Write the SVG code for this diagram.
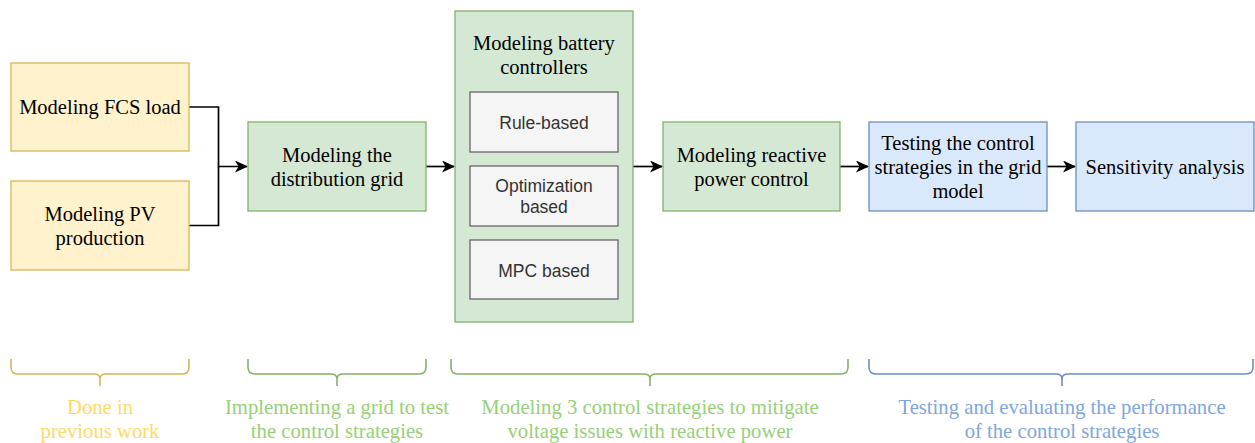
<svg xmlns="http://www.w3.org/2000/svg" width="1255" height="443" viewBox="0 0 1255 443">
  <defs>
    <marker id="arrow" viewBox="0 0 13 12" refX="12" refY="6" markerWidth="13" markerHeight="12" markerUnits="userSpaceOnUse" orient="auto">
      <path d="M0,0 L13,6 L0,12 L3.5,6 Z" fill="#000"/>
    </marker>
    <style>
      .yellow { fill: #fff2cc; stroke: #d6b656; stroke-width: 1.3; }
      .green { fill: #d5e8d4; stroke: #82b366; stroke-width: 1.3; }
      .blue { fill: #dae8fc; stroke: #6c8ebf; stroke-width: 1.3; }
      .grey { fill: #f5f5f5; stroke: #666666; stroke-width: 1.3; }
      .t { font-family: "Liberation Serif", "Times New Roman", serif; font-size: 20.5px; fill: #000; text-anchor: middle; dominant-baseline: central; }
      .s { font-family: "Liberation Sans", Arial, sans-serif; font-size: 17.5px; fill: #333333; text-anchor: middle; dominant-baseline: central; }
      .edge { fill: none; stroke: #000; stroke-width: 1.7; }
      .brace { fill: none; stroke-width: 1.6; }
      .lbl { font-family: "Liberation Serif", "Times New Roman", serif; font-size: 20.7px; text-anchor: middle; dominant-baseline: central; }
    </style>
  </defs>

  <rect width="1255" height="443" fill="#ffffff"/>

  <g id="connectors">
    <path class="edge" d="M189,107 H218.5 V166.5 H247" marker-end="url(#arrow)"/>
    <path class="edge" d="M189,225.5 H218.5 V166.5"/>
    <path class="edge" d="M426,166.5 H454" marker-end="url(#arrow)"/>
    <path class="edge" d="M633,166.5 H662" marker-end="url(#arrow)"/>
    <path class="edge" d="M840,166.5 H868" marker-end="url(#arrow)"/>
    <path class="edge" d="M1047,166.5 H1075" marker-end="url(#arrow)"/>
  </g>

  <g id="fcs-load">
    <rect class="yellow" x="11" y="63" width="178" height="88"/>
    <text class="t" x="100" y="107">Modeling FCS load</text>
  </g>

  <g id="pv-production">
    <rect class="yellow" x="11" y="181" width="178" height="89"/>
    <text class="t" x="100" y="213.5">Modeling PV</text>
    <text class="t" x="100" y="237.5">production</text>
  </g>

  <g id="distribution-grid">
    <rect class="green" x="248" y="122" width="178" height="89"/>
    <text class="t" x="337" y="154.5">Modeling the</text>
    <text class="t" x="337" y="178.5">distribution grid</text>
  </g>

  <g id="battery-controllers">
    <rect class="green" x="455" y="11" width="178" height="311"/>
    <text class="t" x="544" y="43">Modeling battery</text>
    <text class="t" x="544" y="67">controllers</text>
  </g>

  <g id="rule-based">
    <rect class="grey" x="470" y="92" width="148" height="60"/>
    <text class="s" x="544" y="122.5">Rule-based</text>
  </g>

  <g id="optimization-based">
    <rect class="grey" x="470" y="166" width="148" height="60"/>
    <text class="s" x="544" y="186">Optimization</text>
    <text class="s" x="544" y="207">based</text>
  </g>

  <g id="mpc-based">
    <rect class="grey" x="470" y="240" width="148" height="59"/>
    <text class="s" x="544" y="270.5">MPC based</text>
  </g>

  <g id="reactive-power">
    <rect class="green" x="663" y="122" width="177" height="89"/>
    <text class="t" x="751.5" y="154.5">Modeling reactive</text>
    <text class="t" x="751.5" y="178.5">power control</text>
  </g>

  <g id="testing">
    <rect class="blue" x="869" y="122" width="178" height="89"/>
    <text class="t" x="958" y="142.5">Testing the control</text>
    <text class="t" x="958" y="166.5">strategies in the grid</text>
    <text class="t" x="958" y="190.5">model</text>
  </g>

  <g id="sensitivity">
    <rect class="blue" x="1076" y="122" width="178" height="89"/>
    <text class="t" x="1165" y="166.5">Sensitivity analysis</text>
  </g>

  <g id="brace-previous">
    <path class="brace" stroke="#d6b656" d="M11,359 V367 Q11,374 18,374 H94 Q100,374 100,379 V386 M100,379 Q100,374 106,374 H182 Q189,374 189,367 V359"/>
    <text class="lbl" fill="#ffd966" x="100" y="407">Done in</text>
    <text class="lbl" fill="#ffd966" x="100" y="431">previous work</text>
  </g>

  <g id="brace-grid">
    <path class="brace" stroke="#82b366" d="M248,359 V367 Q248,374 255,374 H331 Q337,374 337,379 V386 M337,379 Q337,374 343,374 H419 Q426,374 426,367 V359"/>
    <text class="lbl" fill="#97d077" x="337" y="407">Implementing a grid to test</text>
    <text class="lbl" fill="#97d077" x="337" y="431">the control strategies</text>
  </g>

  <g id="brace-strategies">
    <path class="brace" stroke="#82b366" d="M451,359 V367 Q451,374 458,374 H644 Q650,374 650,379 V386 M650,379 Q650,374 656,374 H841 Q848,374 848,367 V359"/>
    <text class="lbl" fill="#97d077" x="650" y="407">Modeling 3 control strategies to mitigate</text>
    <text class="lbl" fill="#97d077" x="650" y="431">voltage issues with reactive power</text>
  </g>

  <g id="brace-evaluation">
    <path class="brace" stroke="#6c8ebf" d="M869,359 V367 Q869,374 876,374 H1056 Q1062,374 1062,379 V386 M1062,379 Q1062,374 1068,374 H1246 Q1253,374 1253,367 V359"/>
    <text class="lbl" fill="#7ea6e0" x="1062" y="407">Testing and evaluating the performance</text>
    <text class="lbl" fill="#7ea6e0" x="1062" y="431">of the control strategies</text>
  </g>
</svg>
